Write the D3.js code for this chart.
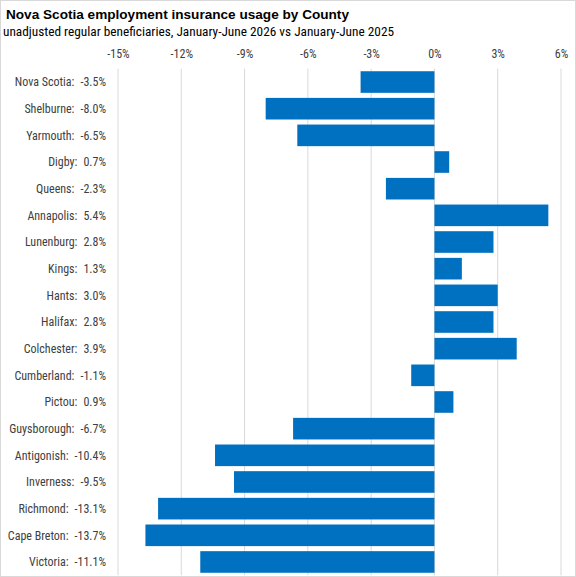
<!DOCTYPE html>
<html><head><meta charset="utf-8">
<script src="https://cdn.jsdelivr.net/npm/d3@7"></script>
<style>
html,body{margin:0;padding:0;background:#fff;}
svg{display:block;}
</style></head>
<body>
<svg id="c" width="576" height="577"></svg>
<script>
const categories = ["Nova Scotia","Shelburne","Yarmouth","Digby","Queens","Annapolis","Lunenburg","Kings","Hants","Halifax","Colchester","Cumberland","Pictou","Guysborough","Antigonish","Inverness","Richmond","Cape Breton","Victoria"];
const values = [-3.5,-8.0,-6.5,0.7,-2.3,5.4,2.8,1.3,3.0,2.8,3.9,-1.1,0.9,-6.7,-10.4,-9.5,-13.1,-13.7,-11.1];
const tickValues = [-15,-12,-9,-6,-3,0,3,6];

(function(){
const svg = d3.select("#c");
const W = 576, H = 577;
const font = "'Liberation Sans Narrow','Roboto Condensed','Liberation Sans',Arial,sans-serif";

svg.append("rect").attr("x",0.5).attr("y",0.5).attr("width",W-1).attr("height",H-1)
  .attr("fill","#fff").attr("stroke","#d9d9d9");

svg.append("text").attr("x",6).attr("y",19).attr("font-family","'Liberation Sans',Arial,sans-serif")
  .attr("font-weight","bold").attr("font-size",13.6).attr("fill","#000")
  .text("Nova Scotia employment insurance usage by County");
svg.append("text").attr("x",3).attr("y",36).attr("font-family",font)
  .attr("font-size",13.3).attr("fill","#000")
  .text("unadjusted regular beneficiaries, January-June 2026 vs January-June 2025");

const plotTop = 68.7, plotBottom = 575.3;
const x = d3.scaleLinear().domain([-15,6]).range([118,561]);
const y = d3.scaleBand().domain(categories).range([plotTop,plotBottom]).paddingInner(0.19).paddingOuter(0.095);

svg.append("g").selectAll("line").data(tickValues).join("line")
  .attr("x1",d=>x(d)).attr("x2",d=>x(d)).attr("y1",plotTop).attr("y2",plotBottom)
  .attr("stroke","#d9d9d9").attr("stroke-width",1);

const ax = svg.append("g").attr("transform",`translate(0,${plotTop})`)
  .call(d3.axisTop(x).tickValues(tickValues).tickFormat(d=>d+"%").tickSize(0).tickPadding(11));
ax.select(".domain").remove();
ax.selectAll("text").attr("font-family",font).attr("font-size",12).attr("fill","#404040");

svg.append("g").selectAll("rect").data(values).join("rect")
  .attr("x",(d)=>x(Math.min(0,d)))
  .attr("width",d=>Math.abs(x(d)-x(0)))
  .attr("y",(d,i)=>y(categories[i]))
  .attr("height",y.bandwidth())
  .attr("fill","#0070C0");

const lbl = svg.append("g").selectAll("text").data(categories).join("text")
  .attr("x",106).attr("y",c=>y(c)+y.bandwidth()/2).attr("dy","0.35em")
  .attr("text-anchor","end").attr("font-family",font).attr("font-size",12).attr("fill","#404040");
lbl.append("tspan").text(c=>c+":");
lbl.append("tspan").attr("dx",6).text((c,i)=>values[i].toFixed(1)+"%");
})();
</script>
</body></html>
